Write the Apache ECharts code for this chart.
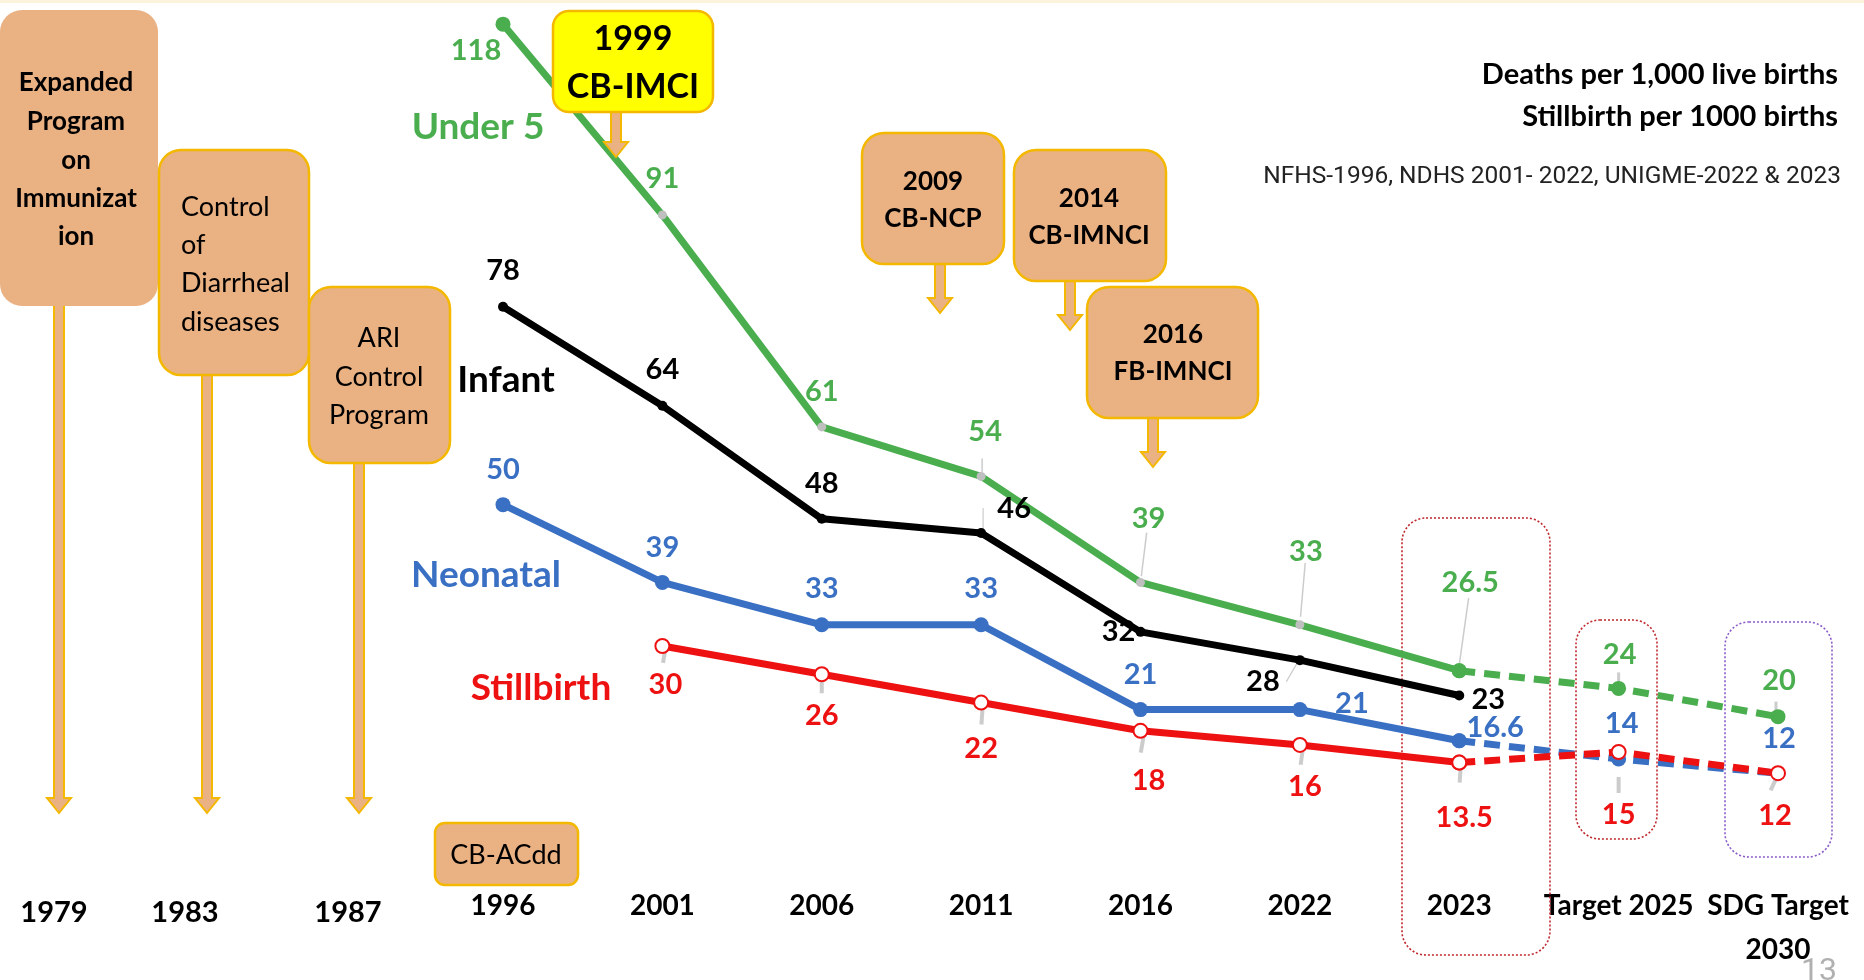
<!DOCTYPE html>
<html>
<head>
<meta charset="utf-8">
<title>Child mortality trend</title>
<script src="https://cdn.jsdelivr.net/npm/echarts/dist/echarts.min.js"></script>
<style>
  html, body { margin: 0; padding: 0; background: #fff; }
  #main { width: 1864px; height: 980px; }
</style>
</head>
<body>
<div id="main"></div>
<script>
// data
const categories = ['1996', '2001', '2006', '2011', '2016', '2022', '2023', 'Target 2025', 'SDG Target\n2030']
const under5 = [118, 91, 61, 54, 39, 33, 26.5, 24, 20]
const infant = [78, 64, 48, 46, 32, 28, 23, null, null]
const neonatal = [50, 39, 33, 33, 21, 21, 16.6, 14, 12]
const stillbirth = [null, 30, 26, 22, 18, 16, 13.5, 15, 12]
const lastObserved = 6 // 2023, after this the targets are dashed

// label offsets (px) from each point
const u5Off = [[-27, 27], [0, -36], [0, -35], [4, -45], [8, -64], [6, -73], [11, -88], [1, -34], [1, -36]]
const infOff = [[0, -36], [0, -36], [0, -35], [33, -24], [-22, 0], [-37, 22], [29, 4], null, null]
const neoOff = [[0, -35], [0, -35], [0, -36], [0, -36], [0, -35], [52, -6], [36, -13], [3, -35], [1, -35]]
const sbOff = [null, [3, 39], [0, 41], [0, 46], [8, 50], [5, 42], [5, 55], [0, 63], [-3, 42]]

const GREEN = '#4aae4f'
const BLACK = '#000000'
const BLUE = '#3a70c3'
const RED = '#ee1111'
const GREY = '#bfbfbf'
const PEACH = '#eab183'
const GOLD = '#f4b800'
const FONT = 'Lato, "Open Sans", sans-serif'

function part (values, offsets, color, solid, markerFn) {
  return values.map((v, i) => {
    const inPart = solid ? i <= lastObserved : i >= lastObserved
    if (v === null || !inPart) return '-'
    const showLabel = solid ? true : i > lastObserved
    const m = markerFn(i)
    return {
      value: v,
      symbol: m.symbol,
      symbolSize: m.size,
      itemStyle: m.style,
      label: {
        show: showLabel && !!offsets[i],
        position: 'inside',
        offset: offsets[i] || [0, 0],
        color: color,
        fontFamily: FONT,
        fontWeight: 'bold',
        fontSize: 29
      }
    }
  })
}

const u5Marker = i => (i === 0 || i >= lastObserved)
  ? { symbol: 'circle', size: 15, style: { color: GREEN } }
  : { symbol: 'circle', size: 9, style: { color: GREY } }
const infMarker = () => ({ symbol: 'circle', size: 10, style: { color: BLACK } })
const neoMarker = () => ({ symbol: 'circle', size: 15, style: { color: BLUE } })
const sbMarker = () => ({ symbol: 'emptyCircle', size: 14, style: { color: RED, borderWidth: 3.5, borderColor: RED } })

function lineSeries (name, values, offsets, color, solid, markerFn) {
  return {
    name: name,
    type: 'line',
    data: part(values, offsets, color, solid, markerFn),
    color: color,
    connectNulls: false,
    lineStyle: { width: 7, color: color, type: solid ? 'solid' : [16, 9] },
    z: 3
  }
}

// grey label leaders: [values, index, [dx, dy], [w, h], rotate]
const leaderSpec = [
  [under5, 3, [1, -11], [1.5, 14], 0],
  [under5, 4, [3.5, -28], [1.5, 44], -7],
  [under5, 5, [3, -35], [1.5, 54], -5],
  [under5, 6, [4.5, -38], [1.5, 70], -8],
  [under5, 7, [0, -11], [3, 10], 0],
  [under5, 8, [-2, -10], [3, 10], 0],
  [infant, 3, [2, -13], [1.2, 24], 0],
  [infant, 5, [-8, 12], [1.2, 22], -30],
  [stillbirth, 1, [2, 9], [4, 16], -10],
  [stillbirth, 2, [0, 10], [4, 18], 0],
  [stillbirth, 3, [1, 12], [4, 20], -4],
  [stillbirth, 4, [2, 12], [4, 20], -10],
  [stillbirth, 5, [2, 11], [4, 18], -8],
  [stillbirth, 6, [1, 11], [4, 18], -4],
  [stillbirth, 7, [0, 0], [4, 16], 0],
  [stillbirth, 7, [0, 33], [4, 16], 0],
  [stillbirth, 8, [-4, 10], [4, 16], -25]
]
const leaders = leaderSpec.map(s => ({
  value: [categories[s[1]], s[0][s[1]]],
  symbolOffset: s[2],
  symbolSize: s[3],
  symbolRotate: s[4]
}))

// arrow pointing down, as polygon
function arrow (cx, y0, yTip, z) {
  const hw = 5; const hh = 12; const yb = yTip - 15
  return {
    type: 'polygon',
    z: z || 5,
    shape: { points: [[cx - hw, y0], [cx + hw, y0], [cx + hw, yb], [cx + hh, yb], [cx, yTip], [cx - hh, yb], [cx - hw, yb]] },
    style: { fill: PEACH, stroke: GOLD, lineWidth: 2 }
  }
}
function box (x, y, w, h, fill, stroke, r) {
  return {
    type: 'rect',
    z: 10,
    shape: { x: x, y: y, width: w, height: h, r: r || 22 },
    style: { fill: fill, stroke: stroke, lineWidth: stroke ? 2.5 : 0 }
  }
}
function txt (text, x, y, size, opts) {
  opts = opts || {}
  return {
    type: 'text',
    z: 11,
    style: {
      text: text,
      x: x,
      y: y,
      fill: opts.color || '#000',
      font: (opts.bold ? 'bold ' : '') + size + 'px ' + (opts.family || FONT),
      textAlign: opts.align || 'center',
      textVerticalAlign: 'middle'
    }
  }
}
function dotted (x, y, w, h, color) {
  return {
    type: 'rect',
    z: 1,
    shape: { x: x, y: y, width: w, height: h, r: 24 },
    style: { fill: null, stroke: color, lineWidth: 1.6, lineDash: [2, 2] }
  }
}

const graphics = [
  { type: 'rect', z: 0, shape: { x: 0, y: 0, width: 1864, height: 3 }, style: { fill: '#fbf3dc' } },
  // programme boxes on the left
  arrow(59, 300, 813), arrow(207, 370, 813), arrow(359, 455, 813),
  box(0, 10, 158, 296, PEACH, null),
  txt('Expanded', 76, 83, 26, { bold: true }),
  txt('Program', 76, 122, 26, { bold: true }),
  txt('on', 76, 161, 26, { bold: true }),
  txt('Immunizat', 76, 199, 26, { bold: true }),
  txt('ion', 76, 237, 26, { bold: true }),
  box(159, 150, 150, 225, PEACH, GOLD),
  txt('Control', 181, 207, 27, { align: 'left' }),
  txt('of', 181, 245, 27, { align: 'left' }),
  txt('Diarrheal', 181, 283, 27, { align: 'left' }),
  txt('diseases', 181, 322, 27, { align: 'left' }),
  box(309, 287, 141, 176, PEACH, GOLD),
  txt('ARI', 379, 338, 27),
  txt('Control', 379, 377, 27),
  txt('Program', 379, 415, 27),
  // strategy boxes
  arrow(616, 108, 157, 9),
  box(553, 11, 160, 101, '#ffff00', GOLD, 16),
  txt('1999', 633, 39, 34, { bold: true }),
  txt('CB-IMCI', 633, 87, 34, { bold: true }),
  arrow(940, 260, 313), box(862, 133, 142, 131, PEACH, GOLD),
  txt('2009', 933, 182, 26, { bold: true }),
  txt('CB-NCP', 933, 219, 26, { bold: true }),
  arrow(1070, 277, 330), box(1014, 150, 152, 131, PEACH, GOLD),
  txt('2014', 1089, 199, 26, { bold: true }),
  txt('CB-IMNCI', 1089, 236, 26, { bold: true }),
  arrow(1153, 414, 467), box(1087, 287, 171, 131, PEACH, GOLD),
  txt('2016', 1173, 335, 26, { bold: true }),
  txt('FB-IMNCI', 1173, 372, 26, { bold: true }),
  box(435, 823, 143, 62, PEACH, GOLD, 10),
  txt('CB-ACdd', 506, 855, 27),
  // early years (not on the data axis)
  txt('1979', 54, 913, 29, { bold: true }),
  txt('1983', 185, 913, 29, { bold: true }),
  txt('1987', 348, 913, 29, { bold: true }),
  // series names
  txt('Under 5', 478, 127, 37, { bold: true, color: GREEN }),
  txt('Infant', 506, 380, 37, { bold: true, color: BLACK }),
  txt('Neonatal', 486, 575, 37, { bold: true, color: BLUE }),
  txt('Stillbirth', 541, 688, 37, { bold: true, color: RED }),
  // units and source
  txt('Deaths per 1,000 live births', 1838, 75, 29, { bold: true, align: 'right' }),
  txt('Stillbirth per 1000 births', 1838, 117, 29, { bold: true, align: 'right' }),
  txt('NFHS-1996, NDHS 2001- 2022, UNIGME-2022 & 2023', 1841, 177, 24.5, { align: 'right', family: 'Roboto, sans-serif', color: '#222' }),
  // highlight frames
  dotted(1402, 518, 148, 437, '#c0282d'),
  dotted(1576, 620, 81, 219, '#c0282d'),
  dotted(1725, 622, 107, 235, '#8a5cc8'),
  txt('13', 1819, 972, 32, { color: '#b0b0b0', family: 'Roboto, sans-serif' })
]

const option = {
  animation: false,
  backgroundColor: '#ffffff',
  grid: { left: 503, right: 86, top: 10, bottom: 122 },
  xAxis: {
    type: 'category',
    boundaryGap: false,
    data: categories,
    axisLine: { show: false },
    axisTick: { show: false },
    splitLine: { show: false },
    axisLabel: {
      interval: 0,
      margin: 26,
      color: '#000',
      fontFamily: FONT,
      fontWeight: 'bold',
      fontSize: 28,
      lineHeight: 44
    }
  },
  yAxis: {
    type: 'value',
    min: 0,
    max: 120,
    show: false
  },
  graphic: graphics,
  series: [
    {
      name: 'leaders',
      type: 'scatter',
      symbol: 'rect',
      data: leaders,
      itemStyle: { color: GREY },
      silent: true,
      z: 2
    },
    lineSeries('Under 5', under5, u5Off, GREEN, true, u5Marker),
    lineSeries('Under 5 target', under5, u5Off, GREEN, false, u5Marker),
    lineSeries('Infant', infant, infOff, BLACK, true, infMarker),
    lineSeries('Neonatal', neonatal, neoOff, BLUE, true, neoMarker),
    lineSeries('Neonatal target', neonatal, neoOff, BLUE, false, neoMarker),
    lineSeries('Stillbirth', stillbirth, sbOff, RED, true, sbMarker),
    lineSeries('Stillbirth target', stillbirth, sbOff, RED, false, sbMarker)
  ]
}

const myChart = echarts.init(document.getElementById('main'))
myChart.setOption(option)
window.addEventListener('resize', () => {
  myChart.resize()
})
</script>
</body>
</html>
